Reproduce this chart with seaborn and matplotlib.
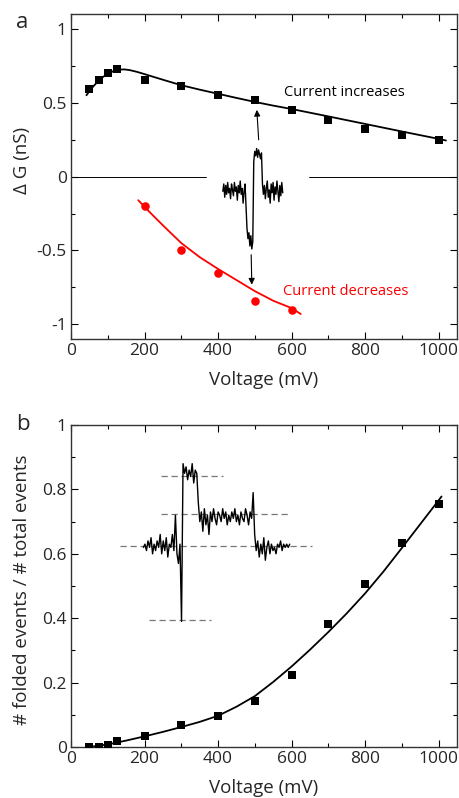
import numpy as np
import pandas as pd
import matplotlib
matplotlib.use("Agg")
import matplotlib.pyplot as plt
import seaborn as sns

# ---------------- data ----------------
volt_inc = [50, 75, 100, 125, 200, 300, 400, 500, 600, 700, 800, 900, 1000]
dg_inc = [0.59, 0.65, 0.70, 0.73, 0.65, 0.61, 0.55, 0.52, 0.45, 0.38, 0.32, 0.28, 0.25]
fit_inc_x = [42, 55, 70, 85, 100, 115, 130, 145, 160, 180, 200, 250, 300, 350, 400, 450, 500,
             550, 600, 700, 800, 900, 1000, 1020]
fit_inc_y = [0.55, 0.595, 0.635, 0.67, 0.695, 0.713, 0.723, 0.725, 0.72, 0.708, 0.693, 0.655,
             0.618, 0.588, 0.56, 0.532, 0.505, 0.48, 0.457, 0.407, 0.356, 0.305, 0.255, 0.244]

volt_dec = [200, 300, 400, 500, 600]
dg_dec = [-0.20, -0.50, -0.65, -0.84, -0.90]
fit_dec_x = [183, 200, 225, 250, 275, 300, 350, 400, 450, 500, 550, 600, 625]
fit_dec_y = [-0.16, -0.205, -0.268, -0.33, -0.39, -0.45, -0.545, -0.625, -0.70, -0.775,
             -0.84, -0.89, -0.93]

volt_fold = [50, 75, 100, 125, 200, 300, 400, 500, 600, 700, 800, 900, 1000]
frac_fold = [0.0, 0.0, 0.005, 0.02, 0.035, 0.067, 0.095, 0.143, 0.223, 0.381, 0.505, 0.635, 0.755]
fit_fold_x = [50, 100, 150, 200, 250, 300, 350, 400, 450, 500, 550, 600, 650, 700, 750, 800,
              850, 900, 950, 1000, 1008]
fit_fold_y = [0.0, 0.008, 0.02, 0.033, 0.047, 0.062, 0.078, 0.097, 0.125, 0.158, 0.202, 0.25,
              0.302, 0.357, 0.415, 0.477, 0.545, 0.618, 0.692, 0.766, 0.778]

trace_a = [-0.10, -0.05, -0.14, -0.06, -0.12, -0.04, -0.11, -0.08, -0.15, -0.05, -0.09, -0.13, -0.04,
           -0.10, -0.07, -0.16, -0.06, -0.11, -0.03, -0.12, -0.08, -0.18, -0.10, -0.05, -0.20,
           -0.35, -0.42, -0.38, -0.47, -0.40, -0.49, -0.44,
           0.10, 0.17, 0.14, 0.19, 0.13, 0.18, 0.15, 0.12, 0.16,
           -0.05, -0.12, -0.06, -0.15, -0.08, -0.03, -0.14, -0.09, -0.18, -0.05, -0.11, -0.04,
           -0.16, -0.07, -0.12, -0.03, -0.10, -0.17, -0.06, -0.13, -0.04, -0.11]
trace_b = [0.62, 0.63, 0.61, 0.64, 0.62, 0.65, 0.60, 0.63, 0.61, 0.64, 0.62, 0.66, 0.60, 0.64, 0.61,
           0.65, 0.59, 0.63, 0.62, 0.66, 0.61,
           0.72, 0.60, 0.57, 0.63, 0.39,
           0.88, 0.85, 0.87, 0.83, 0.86, 0.84, 0.88, 0.82, 0.86, 0.85,
           0.76, 0.70, 0.73, 0.67, 0.74, 0.69, 0.72, 0.66, 0.73, 0.70, 0.74, 0.71, 0.69, 0.73, 0.72,
           0.70, 0.74, 0.71, 0.73, 0.69, 0.72, 0.70, 0.73, 0.71, 0.74, 0.70, 0.72, 0.69, 0.73, 0.71,
           0.70, 0.74, 0.72, 0.69, 0.73, 0.71, 0.79,
           0.66, 0.61, 0.64, 0.59, 0.63, 0.60, 0.65, 0.58, 0.62, 0.64, 0.60, 0.63, 0.61, 0.62, 0.60,
           0.63, 0.62, 0.64, 0.61, 0.63, 0.62, 0.63, 0.62, 0.63]
levels_b = [0.843, 0.724, 0.625, 0.394]
levels_b_x0 = [244, 244, 133, 213]
levels_b_x1 = [414, 590, 655, 382]

xticks = [0, 200, 400, 600, 800, 1000]
yticks_a = [-1, -0.5, 0, 0.5, 1]
yticks_a_lbl = ["-1", "-0.5", "0", "0.5", "1"]
yticks_b = [0, 0.2, 0.4, 0.6, 0.8, 1]
yticks_b_lbl = ["0", "0.2", "0.4", "0.6", "0.8", "1"]

# ---------------- style ----------------
sns.set_style("ticks")
plt.rcParams['font.family'] = ['Open Sans', 'DejaVu Sans']

fig = plt.figure(figsize=(4.59, 7.98), dpi=100)
ax1 = fig.add_axes([0.1547, 0.575, 0.8409, 0.4075])
ax2 = fig.add_axes([0.1547, 0.0639, 0.8409, 0.4035])

red = "#ff0000"

# panel a
sns.lineplot(x=fit_inc_x, y=fit_inc_y, ax=ax1, color="black", lw=1.3, sort=False)
sns.scatterplot(x=volt_inc, y=dg_inc, ax=ax1, marker="s", s=32, color="black", edgecolor="black", linewidth=0, zorder=3)
sns.lineplot(x=fit_dec_x, y=fit_dec_y, ax=ax1, color=red, lw=1.3, sort=False)
sns.scatterplot(x=volt_dec, y=dg_dec, ax=ax1, marker="o", s=38, color=red, edgecolor=red, linewidth=0, zorder=3)
ax1.plot([0, 366], [0, 0], color="black", lw=0.7)
ax1.plot([647, 1050], [0, 0], color="black", lw=0.7)
tx_a = np.linspace(413, 576, len(trace_a))
sns.lineplot(x=tx_a, y=trace_a, ax=ax1, color="black", lw=1.0, sort=False)
ax1.annotate("", xy=(505, 0.47), xytext=(511, 0.23),
             arrowprops=dict(arrowstyle="-|>", color="black", lw=0.8, mutation_scale=9))
ax1.annotate("", xy=(492, -0.75), xytext=(490, -0.51),
             arrowprops=dict(arrowstyle="-|>", color="black", lw=0.8, mutation_scale=9))
ax1.text(579, 0.57, "Current increases", fontsize=10.5, va="center", ha="left", color="black")
ax1.text(576, -0.775, "Current decreases", fontsize=10.5, va="center", ha="left", color=red)

ax1.set_xlim(0, 1050)
ax1.set_ylim(-1.1, 1.1)
ax1.set_yticks(yticks_a)
ax1.set_yticklabels(yticks_a_lbl)
ax1.set_xticks(xticks)
ax1.set_xticklabels([str(t) for t in xticks])
ax1.set_xlabel("Voltage (mV)", fontsize=13.5)
ax1.set_ylabel("Δ G (nS)", fontsize=13.5)
ax1.xaxis.set_label_coords(0.5, -0.126)
ax1.xaxis.label.set_verticalalignment("center")
ax1.yaxis.set_label_coords(-0.127, 0.551)
ax1.yaxis.label.set_verticalalignment("center")

# panel b
sns.lineplot(x=fit_fold_x, y=fit_fold_y, ax=ax2, color="black", lw=1.3, sort=False)
sns.scatterplot(x=volt_fold, y=frac_fold, ax=ax2, marker="s", s=32, color="black", edgecolor="black", linewidth=0, zorder=3)
for lv, a0, a1 in zip(levels_b, levels_b_x0, levels_b_x1):
    ax2.plot([a0, a1], [lv, lv], color="#777777", lw=0.9, ls=(0, (5, 3)))
tx_b = np.linspace(197, 595, len(trace_b))
sns.lineplot(x=tx_b, y=trace_b, ax=ax2, color="black", lw=1.0, sort=False)

ax2.set_xlim(0, 1050)
ax2.set_ylim(0, 1)
ax2.set_yticks(yticks_b)
ax2.set_yticklabels(yticks_b_lbl)
ax2.set_xticks(xticks)
ax2.set_xticklabels([str(t) for t in xticks])
ax2.set_xlabel("Voltage (mV)", fontsize=13.5)
ax2.set_ylabel("# folded events / # total events", fontsize=13.5)
ax2.xaxis.set_label_coords(0.5, -0.127)
ax2.xaxis.label.set_verticalalignment("center")
ax2.yaxis.set_label_coords(-0.127, 0.4876)
ax2.yaxis.label.set_verticalalignment("center")

fig.text(16 / 459, 1 - 23 / 798, "a", fontsize=16, va="center", ha="left")
fig.text(16 / 459, 1 - 424 / 798, "b", fontsize=16, va="center", ha="left")

for ax, ymin in ((ax1, 0.25), (ax2, 0.1)):
    ax.xaxis.set_minor_locator(matplotlib.ticker.MultipleLocator(100))
    ax.yaxis.set_minor_locator(matplotlib.ticker.MultipleLocator(ymin))
    ax.tick_params(which="both", direction="in", top=True, right=True, labelsize=12.5, width=0.8, color="black")
    ax.tick_params(which="major", length=5, pad=3)
    ax.tick_params(which="minor", length=3)
    for sp in ax.spines.values():
        sp.set_visible(True)
        sp.set_linewidth(1.0)
        sp.set_color("#333333")

fig.savefig("out.png", dpi=100)
